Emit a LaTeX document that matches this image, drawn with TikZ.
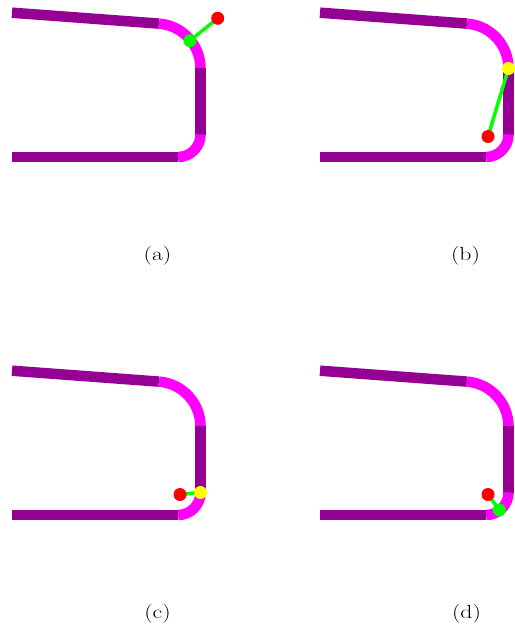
\documentclass[tikz,border=0pt]{standalone}
\definecolor{trkpurple}{RGB}{148,0,148}
\definecolor{trkmag}{RGB}{255,0,255}
\definecolor{dotgreen}{RGB}{0,255,0}
\definecolor{dotred}{RGB}{255,0,0}
\definecolor{dotyellow}{RGB}{255,255,0}
\newcommand{\capwide}[1]{\scalebox{1.25}[1]{#1}}
\begin{document}
\begin{tikzpicture}[x=1pt,y=-1pt,
  straightseg/.style={line width=10.5pt, draw=trkpurple},
  curveseg/.style={line width=10.5pt, draw=trkmag},
  linkline/.style={line width=3.5pt, draw=dotgreen},
  dotnode/.style={circle, inner sep=0pt, minimum size=13pt, draw=none},
  reddot/.style={dotnode, fill=dotred},
  greendot/.style={dotnode, fill=dotgreen},
  yellowdot/.style={dotnode, fill=dotyellow},
  captiontext/.style={font=\fontsize{19}{23}\selectfont, inner sep=0pt},
  trackpic/.pic={
    \draw[straightseg] (12,12.7) -- (158.9,23.6);
    \draw[curveseg] (158.9,23.6) arc[start angle=-85.7, end angle=0, radius=45];
    \draw[straightseg] (200.54,68.47) -- (200.54,134.5);
    \draw[curveseg] (200.54,134.5) arc[start angle=0, end angle=90, radius=22.5];
    \draw[straightseg] (178.04,157) -- (12,157);
  }]
\useasboundingbox (0,0) rectangle (514,626);
\fill[white] (0,0) rectangle (514,626);

\pic at (0,0) {trackpic};
\pic at (308,0) {trackpic};
\pic at (0,358) {trackpic};
\pic at (308,358) {trackpic};

% (a)
\coordinate (ra) at (217.7,18.3);
\coordinate (ga) at (190,40.7);
\draw[linkline] (ra) -- (ga);
\node[reddot] (RA) at (ra) {};
\node[greendot] (GA) at (ga) {};

% (b)
\coordinate (rb) at (488,136.5);
\coordinate (yb) at (508.5,68.5);
\draw[linkline] (rb) -- (yb);
\node[reddot] (RB) at (rb) {};
\node[yellowdot] (YB) at (yb) {};

% (c)
\coordinate (rc) at (180,494.5);
\coordinate (yc) at (200.5,492.5);
\draw[linkline] (rc) -- (yc);
\node[reddot] (RC) at (rc) {};
\node[yellowdot] (YC) at (yc) {};

% (d)
\coordinate (rd) at (488,494.5);
\coordinate (gd) at (499.3,510);
\draw[linkline] (rd) -- (gd);
\node[reddot] (RD) at (rd) {};
\node[greendot] (GD) at (gd) {};

\node[captiontext] (la) at (157.5,256) {\capwide{(a)}};
\node[captiontext] (lb) at (465.5,256) {\capwide{(b)}};
\node[captiontext] (lc) at (157.5,614) {\capwide{(c)}};
\node[captiontext] (ld) at (466.5,614) {\capwide{(d)}};
\end{tikzpicture}
\end{document}
